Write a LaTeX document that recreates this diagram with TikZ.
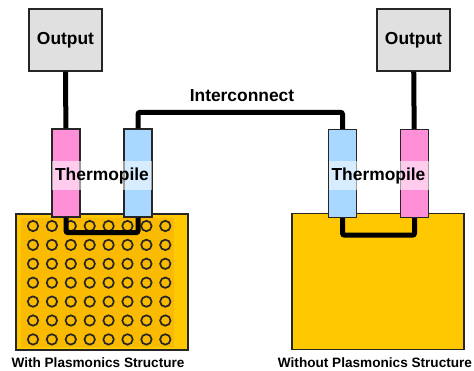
\documentclass[tikz,border=0pt]{standalone}
\usepackage{fontspec}
\setmainfont{Liberation Sans}
\usetikzlibrary{positioning, calc}
\definecolor{outgray}{HTML}{E0E0E0}
\definecolor{hotleg}{HTML}{FF90D8}
\definecolor{coldleg}{HTML}{A8D8FF}
\definecolor{gold}{HTML}{FFC800}
\definecolor{golddark}{HTML}{F9BA00}

\begin{document}
\begin{tikzpicture}[
    x=1pt, y=-1pt,
    every node/.style={font=\bfseries},
    outbox/.style={
        rectangle, draw=black!85, fill=outgray, line width=1.3pt,
        minimum width=73pt, minimum height=62pt, inner sep=0pt,
        font=\fontsize{17.4}{20}\selectfont\bfseries
    },
    leg/.style={
        rectangle, draw=black!85, fill=#1, line width=1.3pt,
        minimum width=28pt, minimum height=88pt, inner sep=0pt
    },
    leg/.default=hotleg,
    substrate/.style={
        rectangle, draw=black!85, fill=gold, line width=1.5pt,
        minimum width=172pt, minimum height=136pt, inner sep=0pt
    },
    tplabel/.style={
        rectangle, fill=white, fill opacity=0.55, text opacity=1,
        minimum width=100pt, minimum height=29pt, inner sep=0pt,
        font=\fontsize{17.4}{20}\selectfont\bfseries
    },
    wire/.style={line width=5pt, black},
    hole/.style={draw=black!85, line width=1.7pt},
    caption/.style={font=\fontsize{13.6}{16}\selectfont\bfseries},
]
\useasboundingbox (0,0) rectangle (474,370);

% ===== Substrates =====
\node[substrate] (subL) at (102,282) {};
\fill[golddark] (21,218) rectangle (174,347);
\node[substrate, fill=gold] (subR) at (378,281.5) {};

% plasmonic hole array
\foreach \i in {0,...,7}
  \foreach \j in {0,...,6}
    \draw[hole] (33+\i*18.9, 226+\j*18.9) circle (5.2);

% ===== Output boxes =====
\node[outbox] (outL) at (65.5,40) {Output};
\node[outbox] (outR) at (413.5,40) {Output};

% ===== Thermopile legs =====
\node[leg] (pinkL) at (66,173) {};
\node[leg=coldleg] (blueL) at (138,173) {};
\node[leg=coldleg] (blueR) at (342.5,173.5) {};
\node[leg] (pinkR) at (414.5,173.5) {};

% ===== Wires =====
\draw[wire] (outL) -- (pinkL);
\draw[wire] (outR) -- (pinkR);
\draw[wire, rounded corners=2pt] (pinkL.south) -- ++(0,15) -| (blueL.south);
\draw[wire, rounded corners=2pt] (blueR.south) -- ++(0,17) -| (pinkR.south);
\draw[wire, rounded corners=2pt] (blueL.north) -- ++(0,-16) -| (blueR.north);

% ===== Labels =====
\node[font=\fontsize{17.4}{20}\selectfont\bfseries] (icLabel) at (242,96) {Interconnect};
\node[tplabel] (tpL) at (102,175.5) {Thermopile};
\node[tplabel] (tpR) at (378.5,175.5) {Thermopile};

\node[caption] (capL) at (98,363) {With Plasmonics Structure};
\node[caption] (capR) at (375,363) {Without Plasmonics Structure};

\end{tikzpicture}
\end{document}
